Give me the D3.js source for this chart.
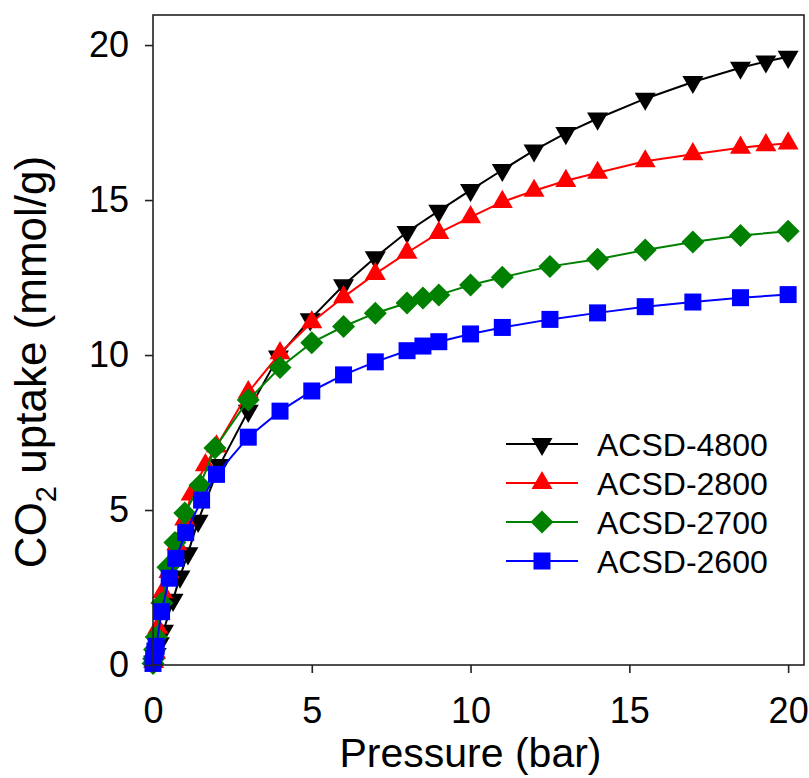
<!DOCTYPE html>
<html>
<head>
<meta charset="utf-8">
<script src="https://d3js.org/d3.v7.min.js"></script>
<style>
  html, body { margin: 0; padding: 0; background: #fff; }
  svg { display: block; font-family: "Liberation Sans", Arial, sans-serif; }
</style>
</head>
<body>
<svg id="chart" width="809" height="778"></svg>
<script>
// ---- data (pressure in bar, uptake in mmol/g) ----
const seriesNames = ["ACSD-4800", "ACSD-2800", "ACSD-2700", "ACSD-2600"];
const seriesColors = ["#000000", "#ff0000", "#008000", "#0000ff"];
const seriesShapes = ["triangleDown", "triangleUp", "diamond", "square"];

const p4800 = [0.02,0.1,0.2,0.33,0.63,0.85,1.1,1.42,2.1,3.0,3.95,4.95,6,7,8,9,10,11,12,13,14,15.5,17,18.5,19.3,20];
const u4800 = [0.1,0.35,0.7,1.1,2.1,2.85,3.6,4.65,6.45,8.2,9.95,11.15,12.25,13.15,13.97,14.65,15.32,15.97,16.6,17.16,17.63,18.27,18.81,19.27,19.47,19.62];

const p2800 = [0.02,0.08,0.15,0.3,0.5,0.75,1.0,1.2,1.65,2.0,3.0,4,5,6,7,8,9,10,11,12,13,14,15.5,17,18.5,19.3,20];
const u2800 = [0.1,0.4,1.2,2.35,3.0,3.9,4.7,5.5,6.45,7.05,8.8,10.06,11.06,11.87,12.62,13.3,13.94,14.45,14.94,15.3,15.62,15.88,16.25,16.48,16.69,16.77,16.83];

const p2700 = [0.0,0.02,0.05,0.1,0.28,0.47,0.69,1.0,1.48,1.95,3,4,5,6,7,8,8.5,9,10,11,12.5,14,15.5,17,18.5,20];
const u2700 = [0.05,0.2,0.5,0.9,2.0,3.15,3.95,4.9,5.8,7.0,8.55,9.6,10.4,10.92,11.35,11.68,11.84,11.94,12.26,12.51,12.86,13.09,13.39,13.65,13.86,13.99];

const p2600 = [0.0,0.02,0.06,0.1,0.27,0.51,0.72,1.03,1.53,2.0,3,4,5,6,7,8,8.5,9,10,11,12.5,14,15.5,17,18.5,20];
const u2600 = [0.05,0.2,0.45,0.6,1.72,2.8,3.44,4.27,5.32,6.15,7.35,8.19,8.84,9.36,9.78,10.14,10.29,10.43,10.68,10.89,11.15,11.36,11.56,11.71,11.85,11.95];

const seriesP = [p4800, p2800, p2700, p2600];
const seriesU = [u4800, u2800, u2700, u2600];

const xTicks = [0, 5, 10, 15, 20];
const yTicks = [0, 5, 10, 15, 20];
const xDomain = [0, 20.5];
const yDomain = [0, 20.97];

// ---- layout ----
const svg = d3.select("#chart");
const L = 153, R = 804, T = 15, B = 665;

const x = d3.scaleLinear().domain(xDomain).range([L, R]);
const y = d3.scaleLinear().domain(yDomain).range([B, T]);

function markerPath(shape) {
  const p = d3.path();
  if (shape === "square") {
    const h = 8.5;
    p.rect(-h, -h, 2 * h, 2 * h);
  } else if (shape === "diamond") {
    const h = 11.5;
    p.moveTo(0, -h); p.lineTo(h, 0); p.lineTo(0, h); p.lineTo(-h, 0); p.closePath();
  } else if (shape === "triangleUp") {
    const s = 21, ht = s * Math.sqrt(3) / 2;
    p.moveTo(0, -ht * 2 / 3); p.lineTo(s / 2, ht / 3); p.lineTo(-s / 2, ht / 3); p.closePath();
  } else if (shape === "triangleDown") {
    const s = 21, ht = s * Math.sqrt(3) / 2;
    p.moveTo(0, ht * 2 / 3); p.lineTo(s / 2, -ht / 3); p.lineTo(-s / 2, -ht / 3); p.closePath();
  }
  return p.toString();
}

// ---- series ----
const line = d3.line().x(d => x(d[0])).y(d => y(d[1]));
const plot = svg.append("g");
seriesNames.forEach((name, i) => {
  const pts = seriesP[i].map((p, k) => [p, seriesU[i][k]]);
  const g = plot.append("g");
  g.append("path").datum(pts)
    .attr("d", line)
    .attr("fill", "none")
    .attr("stroke", seriesColors[i])
    .attr("stroke-width", 2);
  g.selectAll("path.m").data(pts).enter().append("path")
    .attr("class", "m")
    .attr("d", markerPath(seriesShapes[i]))
    .attr("transform", d => `translate(${x(d[0])},${y(d[1])})`)
    .attr("fill", seriesColors[i]);
});

// ---- frame ----
svg.append("rect")
  .attr("x", L).attr("y", T).attr("width", R - L).attr("height", B - T)
  .attr("fill", "none").attr("stroke", "#222").attr("stroke-width", 1.6);

// ---- axes ----
const xAxis = d3.axisBottom(x).tickValues(xTicks).tickSize(8).tickPadding(24).tickSizeOuter(0);
const yAxis = d3.axisLeft(y).tickValues(yTicks).tickSize(8).tickPadding(16).tickSizeOuter(0);

const gx = svg.append("g").attr("transform", `translate(0,${B})`).call(xAxis);
const gy = svg.append("g").attr("transform", `translate(${L},0)`).call(yAxis);
[gx, gy].forEach(g => {
  g.select(".domain").remove();
  g.selectAll(".tick line").attr("stroke", "#222").attr("stroke-width", 1.6);
  g.selectAll(".tick text").attr("fill", "#000")
    .style("font-size", "36px").style("font-family", "'Liberation Sans', Arial, sans-serif");
});

// ---- axis titles ----
svg.append("text")
  .attr("x", 470.5).attr("y", 767)
  .attr("text-anchor", "middle")
  .style("font-size", "41px")
  .text("Pressure (bar)");

const yt = svg.append("text")
  .attr("transform", `translate(46,362) rotate(-90)`)
  .attr("text-anchor", "middle")
  .style("font-size", "44px");
yt.append("tspan").text("CO");
yt.append("tspan").attr("dy", 10).style("font-size", "29px").text("2");
yt.append("tspan").attr("dy", -10).text(" uptake (mmol/g)");

// ---- legend ----
const legY = [444, 483, 522, 561];
const leg = svg.append("g");
seriesNames.forEach((name, i) => {
  const g = leg.append("g").attr("transform", `translate(0,${legY[i]})`);
  g.append("line").attr("x1", 506).attr("x2", 578).attr("y1", 0).attr("y2", 0)
    .attr("stroke", seriesColors[i]).attr("stroke-width", 1.8);
  g.append("path").attr("d", markerPath(seriesShapes[i]))
    .attr("transform", "translate(542,0)").attr("fill", seriesColors[i]);
  g.append("text").attr("x", 597).attr("y", 11.5)
    .style("font-size", "32px").text(name);
});
</script>
</body>
</html>
